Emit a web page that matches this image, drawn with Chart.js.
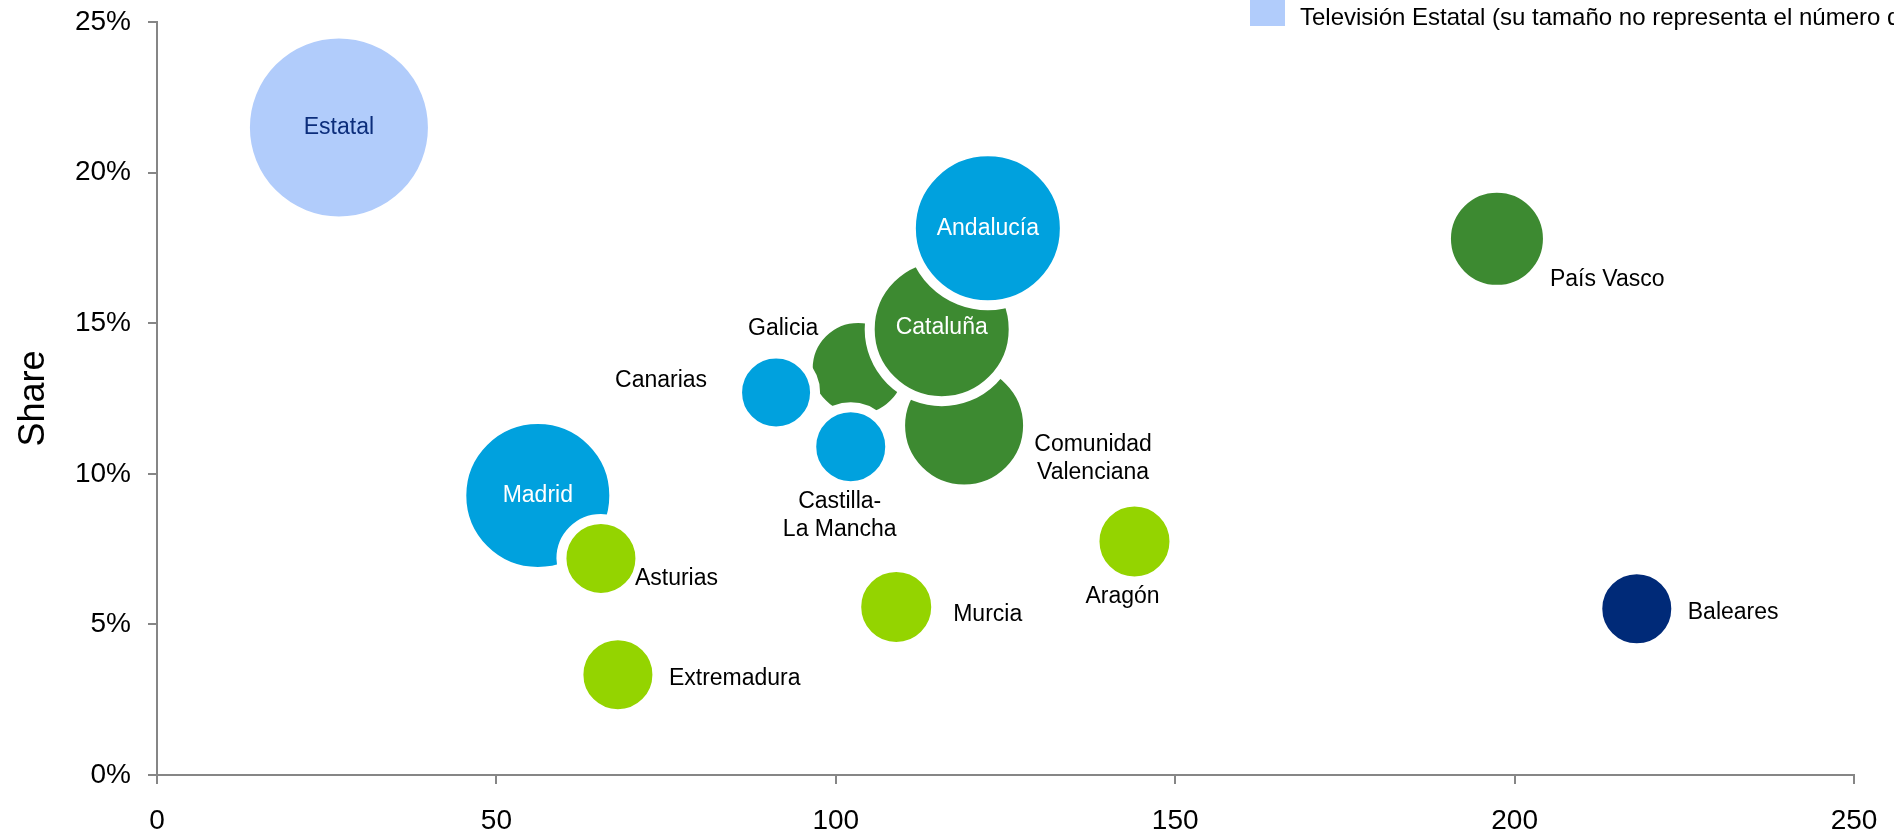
<!DOCTYPE html>
<html>
<head>
<meta charset="utf-8">
<script src="https://cdn.jsdelivr.net/npm/chart.js@4/dist/chart.umd.min.js"></script>
<style>
  html, body { margin: 0; padding: 0; background: #ffffff; }
  #wrap { position: relative; width: 1894px; height: 835px; }
</style>
</head>
<body>
<div id="wrap"><canvas id="c" width="1894" height="835"></canvas></div>
<script>
// ---------- DATA ----------
const xTicks = [0, 50, 100, 150, 200, 250];
const yTicks = [0, 5, 10, 15, 20, 25]; // percent

const estatalNames = ['Estatal'];
const estatalX = [26.8];
const estatalY = [21.5];
const estatalR = [89];

const greenNames = ['Galicia', 'Comunidad Valenciana', 'País Vasco', 'Cataluña'];
const greenX = [103.3, 118.9, 197.4, 115.6];
const greenY = [13.5, 11.6, 17.8, 14.8];
const greenR = [45.5, 59, 46, 67];

const blueNames = ['Madrid', 'Canarias', 'Castilla-La Mancha', 'Andalucía'];
const blueX = [56.1, 91.2, 102.2, 122.4];
const blueY = [9.28, 12.7, 10.9, 18.15];
const blueR = [71.5, 34, 34.5, 72];

const limeNames = ['Asturias', 'Extremadura', 'Murcia', 'Aragón'];
const limeX = [65.4, 67.9, 108.9, 144.0];
const limeY = [7.19, 3.33, 5.58, 7.75];
const limeR = [34.5, 34.5, 35, 35];

const navyNames = ['Baleares'];
const navyX = [218.0];
const navyY = [5.52];
const navyR = [34.5];

const legendText = 'Televisión Estatal (su tamaño no representa el número de espectadores)';

// ---------- LABEL STYLES (offsets in px from bubble centre) ----------
const labelStyle = {
  'Estatal':              { lines: ['Estatal'], dx: 0, dy: 0, align: 'center', color: '#0B2D7B' },
  'Madrid':               { lines: ['Madrid'], dx: 0, dy: 0, align: 'center', color: '#ffffff' },
  'Andalucía':            { lines: ['Andalucía'], dx: 0, dy: 0, align: 'center', color: '#ffffff' },
  'Cataluña':             { lines: ['Cataluña'], dx: 0, dy: -2, align: 'center', color: '#ffffff' },
  'Galicia':              { lines: ['Galicia'], dx: -75, dy: -40, align: 'center', color: '#000000' },
  'Canarias':             { lines: ['Canarias'], dx: -69, dy: -12, align: 'right', color: '#000000' },
  'Castilla-La Mancha':   { lines: ['Castilla-', 'La Mancha'], dx: -11, dy: 55, align: 'center', color: '#000000' },
  'Comunidad Valenciana': { lines: ['Comunidad', 'Valenciana'], dx: 129, dy: 19, align: 'center', color: '#000000' },
  'País Vasco':           { lines: ['País Vasco'], dx: 53, dy: 41, align: 'left', color: '#000000' },
  'Asturias':             { lines: ['Asturias'], dx: 34, dy: 20, align: 'left', color: '#000000' },
  'Extremadura':          { lines: ['Extremadura'], dx: 51, dy: 4, align: 'left', color: '#000000' },
  'Murcia':               { lines: ['Murcia'], dx: 57, dy: 8, align: 'left', color: '#000000' },
  'Aragón':               { lines: ['Aragón'], dx: -12, dy: 55, align: 'center', color: '#000000' },
  'Baleares':             { lines: ['Baleares'], dx: 51, dy: 4, align: 'left', color: '#000000' }
};

const FONT = '"Liberation Sans", Arial, Helvetica, sans-serif';
const BORDER_W = 10; // white halo round each bubble

function pts(names, xs, ys, rs) {
  return names.map((n, i) => ({ x: xs[i], y: ys[i], r: rs[i] + BORDER_W / 2, name: n }));
}

function ds(label, names, xs, ys, rs, color) {
  return {
    label: label,
    data: pts(names, xs, ys, rs),
    backgroundColor: color,
    borderColor: '#ffffff',
    borderWidth: BORDER_W,
    hoverBorderWidth: BORDER_W,
    clip: false
  };
}

// index 0 is drawn on top
const datasets = [
  ds('Lima', limeNames, limeX, limeY, limeR, '#94D400'),
  ds('Azul', blueNames, blueX, blueY, blueR, '#00A1DE'),
  ds('Verde', greenNames, greenX, greenY, greenR, '#3D8A31'),
  ds('Marino', navyNames, navyX, navyY, navyR, '#002A78'),
  ds('Televisión Estatal', estatalNames, estatalX, estatalY, estatalR, '#B1CCFB')
];

const labelPlugin = {
  id: 'bubbleLabels',
  afterDatasetsDraw(chart) {
    const ctx = chart.ctx;
    ctx.save();
    ctx.font = '23px ' + FONT;
    ctx.textBaseline = 'middle';
    const lineH = 28;
    chart.data.datasets.forEach((d, di) => {
      const meta = chart.getDatasetMeta(di);
      meta.data.forEach((el, i) => {
        const st = labelStyle[d.data[i].name];
        if (!st) return;
        ctx.fillStyle = st.color;
        ctx.textAlign = st.align;
        st.lines.forEach((ln, k) => {
          ctx.fillText(ln, el.x + st.dx, el.y + st.dy + k * lineH);
        });
      });
    });
    ctx.restore();
  }
};

const legendPlugin = {
  id: 'topLegend',
  afterDraw(chart) {
    const ctx = chart.ctx;
    ctx.save();
    ctx.fillStyle = '#B1CCFB';
    ctx.fillRect(1250, 0, 35, 26);
    ctx.fillStyle = '#000000';
    ctx.font = '24px ' + FONT;
    ctx.textAlign = 'left';
    ctx.textBaseline = 'alphabetic';
    ctx.fillText(legendText, 1300, 25);
    ctx.restore();
  }
};

new Chart(document.getElementById('c'), {
  type: 'bubble',
  data: { datasets: datasets },
  options: {
    responsive: false,
    animation: false,
    events: [],
    layout: { autoPadding: false, padding: { top: 22, right: 40, left: 0, bottom: 0 } },
    plugins: {
      legend: { display: false },
      tooltip: { enabled: false }
    },
    scales: {
      x: {
        type: 'linear',
        min: xTicks[0],
        max: xTicks[xTicks.length - 1],
        afterBuildTicks(scale) { scale.ticks = xTicks.map(v => ({ value: v })); },
        afterFit(scale) {
          scale.height = 60;
          scale.paddingLeft = 0; scale.paddingRight = 0;
        },
        ticks: {
          color: '#000000',
          font: { family: FONT, size: 28 },
          padding: 20,
          maxRotation: 0,
          callback: v => String(v)
        },
        grid: {
          drawOnChartArea: false,
          drawTicks: true,
          tickLength: 9,
          color: '#868686',
          lineWidth: 2
        },
        border: { color: '#868686', width: 2 }
      },
      y: {
        type: 'linear',
        min: yTicks[0],
        max: yTicks[yTicks.length - 1],
        afterBuildTicks(scale) { scale.ticks = yTicks.map(v => ({ value: v })); },
        afterFit(scale) {
          scale.width = 157;
          scale.paddingTop = 0; scale.paddingBottom = 0;
        },
        ticks: {
          color: '#000000',
          font: { family: FONT, size: 28 },
          padding: 17,
          callback: v => v + '%'
        },
        grid: {
          drawOnChartArea: false,
          drawTicks: true,
          tickLength: 9,
          color: '#868686',
          lineWidth: 2
        },
        border: { color: '#868686', width: 2 },
        title: {
          display: true,
          text: 'Share',
          color: '#000000',
          font: { family: FONT, size: 36 },
          padding: { top: 12, bottom: 0 }
        }
      }
    }
  },
  plugins: [labelPlugin, legendPlugin]
});
</script>
</body>
</html>
